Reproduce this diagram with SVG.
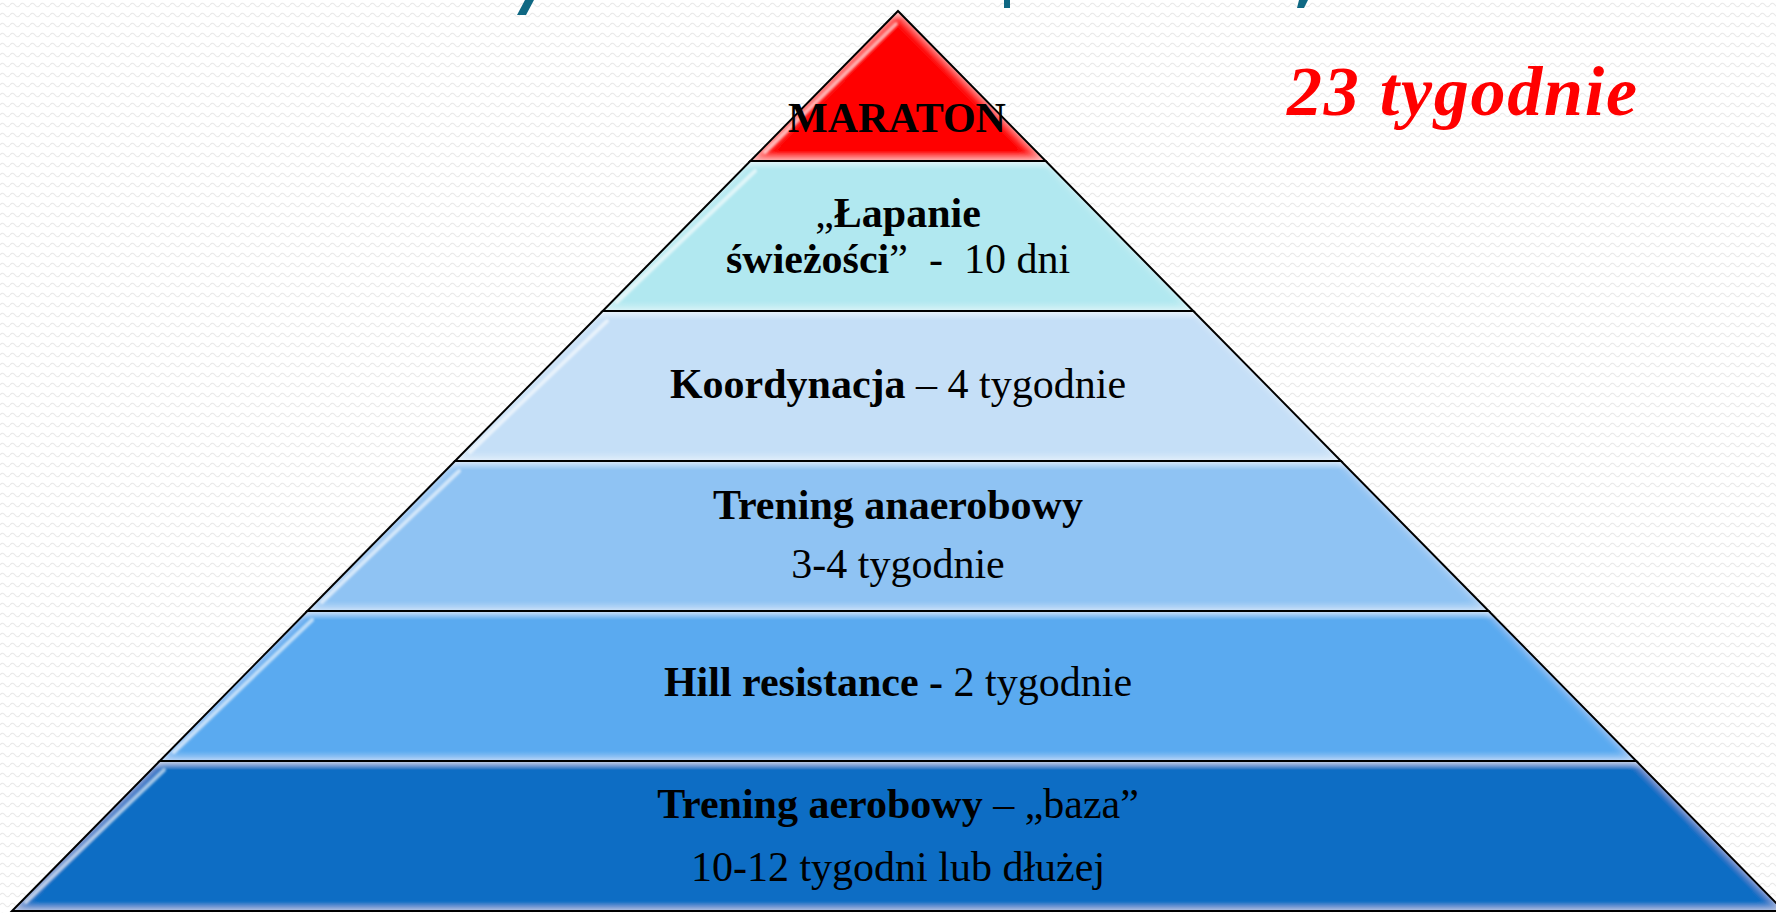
<svg xmlns="http://www.w3.org/2000/svg" width="1776" height="913" viewBox="0 0 1776 913">
  <defs>
    <pattern id="bgWave" width="10" height="10" patternUnits="userSpaceOnUse">
      <rect width="10" height="10" fill="#ffffff"/>
      <path d="M0,5 Q2.5,1.5 5,5 T10,5" fill="none" stroke="#e9e9e9" stroke-width="1.1"/>
    </pattern>
    <linearGradient id="gloss" x1="0" y1="0" x2="0" y2="1">
      <stop offset="0" stop-color="#ffffff" stop-opacity="0.5"/>
      <stop offset="0.06" stop-color="#ffffff" stop-opacity="0"/>
      <stop offset="0.93" stop-color="#ffffff" stop-opacity="0"/>
      <stop offset="1" stop-color="#ffffff" stop-opacity="0.3"/>
    </linearGradient>
    <filter id="innerGlow" x="-5%" y="-5%" width="110%" height="110%">
      <feGaussianBlur in="SourceAlpha" stdDeviation="4" result="b"/>
      <feComposite in="SourceAlpha" in2="b" operator="out" result="edge"/>
      <feFlood flood-color="#ffffff" flood-opacity="0.55"/>
      <feComposite in2="edge" operator="in" result="glow"/>
      <feMerge><feMergeNode in="SourceGraphic"/><feMergeNode in="glow"/></feMerge>
    </filter>
    <filter id="soft" x="-10%" y="-10%" width="120%" height="120%">
      <feGaussianBlur stdDeviation="0.8"/>
    </filter>
  </defs>
  <style>
    .band { stroke: none; }
    .gl { fill: url(#gloss); stroke: none; }
    .edge { fill: none; stroke: #000000; stroke-width: 2; stroke-linejoin: miter; }
    .hl { fill: none; stroke: #ffffff; stroke-width: 4; stroke-linecap: round; stroke-opacity: 0.6; }
    .t { font-family: "Liberation Serif", "Times New Roman", serif; font-size: 42px; fill: #000000; text-anchor: middle; }
    .b { font-weight: bold; }
    .frag { fill: #0f6883; }
  </style>

  <rect id="background" x="0" y="0" width="1776" height="913" fill="url(#bgWave)"/>

  <g id="title-fragments">
    <polygon class="frag" points="525,0 534,0 526,15 517,15"/>
    <rect class="frag" x="1004" y="0" width="6" height="8"/>
    <polygon class="frag" points="1299,0 1308,0 1304,8 1297,8"/>
  </g>

  <g id="node-aerobowy">
    <polygon class="band" filter="url(#innerGlow)" fill="#106dc4" points="159.7,761 1636.3,761 1784,911 12,911"/>
    <polygon class="gl" points="159.7,761 1636.3,761 1784,911 12,911"/>
    <line class="hl" x1="164" y1="770" x2="26" y2="902" stroke-opacity="0.45" filter="url(#soft)"/>
    <polygon class="edge" points="159.7,761 1636.3,761 1784,911 12,911"/>
    <text class="t" x="898" y="818"><tspan class="b">Trening aerobowy</tspan> – „baza”</text>
    <text class="t" x="898" y="881">10-12 tygodni lub dłużej</text>
  </g>

  <g id="node-hill">
    <polygon class="band" filter="url(#innerGlow)" fill="#5aaaf0" points="307.3,611 1488.7,611 1636.3,761 159.7,761"/>
    <polygon class="gl" points="307.3,611 1488.7,611 1636.3,761 159.7,761"/>
    <line class="hl" x1="312" y1="620" x2="174" y2="752" filter="url(#soft)"/>
    <polygon class="edge" points="307.3,611 1488.7,611 1636.3,761 159.7,761"/>
    <text class="t" x="898" y="696"><tspan class="b">Hill resistance -</tspan> 2 tygodnie</text>
  </g>

  <g id="node-anaerobowy">
    <polygon class="band" filter="url(#innerGlow)" fill="#8fc3f3" points="455,461 1341,461 1488.7,611 307.3,611"/>
    <polygon class="gl" points="455,461 1341,461 1488.7,611 307.3,611"/>
    <line class="hl" x1="459" y1="471" x2="322" y2="602" filter="url(#soft)"/>
    <polygon class="edge" points="455,461 1341,461 1488.7,611 307.3,611"/>
    <text class="t b" x="898" y="519">Trening anaerobowy</text>
    <text class="t" x="898" y="578">3-4 tygodnie</text>
  </g>

  <g id="node-koordynacja">
    <polygon class="band" filter="url(#innerGlow)" fill="#c5dff7" points="602.7,311 1193.3,311 1341,461 455,461"/>
    <polygon class="gl" points="602.7,311 1193.3,311 1341,461 455,461"/>
    <line class="hl" x1="607" y1="321" x2="470" y2="452" filter="url(#soft)"/>
    <polygon class="edge" points="602.7,311 1193.3,311 1341,461 455,461"/>
    <text class="t" x="898" y="398"><tspan class="b">Koordynacja</tspan> – 4 tygodnie</text>
  </g>

  <g id="node-lapanie">
    <polygon class="band" filter="url(#innerGlow)" fill="#b1e8f0" points="750.3,161 1045.7,161 1193.3,311 602.7,311"/>
    <polygon class="gl" points="750.3,161 1045.7,161 1193.3,311 602.7,311"/>
    <line class="hl" x1="755" y1="171" x2="617" y2="302" filter="url(#soft)"/>
    <polygon class="edge" points="750.3,161 1045.7,161 1193.3,311 602.7,311"/>
    <text class="t" x="898" y="227" font-size="43">„<tspan class="b">Łapanie</tspan></text>
    <text class="t" x="898" y="273" font-size="43" xml:space="preserve"><tspan class="b">świeżości</tspan>”  -  10 dni</text>
  </g>

  <g id="node-maraton">
    <polygon class="band" filter="url(#innerGlow)" fill="#ff0000" points="898,11 1045.7,161 750.3,161"/>
    <polygon class="gl" points="898,11 1045.7,161 750.3,161"/>
    <line class="hl" x1="896" y1="24" x2="765" y2="152" filter="url(#soft)"/>
    <polygon class="edge" points="898,11 1045.7,161 750.3,161"/>
    <text class="t b" x="897" y="132" font-size="37">MARATON</text>
  </g>

  <g id="connectors"/>

  <g id="note">
    <text x="1462" y="115" font-family="'Liberation Serif', 'Times New Roman', serif" font-size="70" font-weight="bold" font-style="italic" fill="#ff0000" text-anchor="middle" textLength="350" lengthAdjust="spacing">23 tygodnie</text>
  </g>
</svg>
